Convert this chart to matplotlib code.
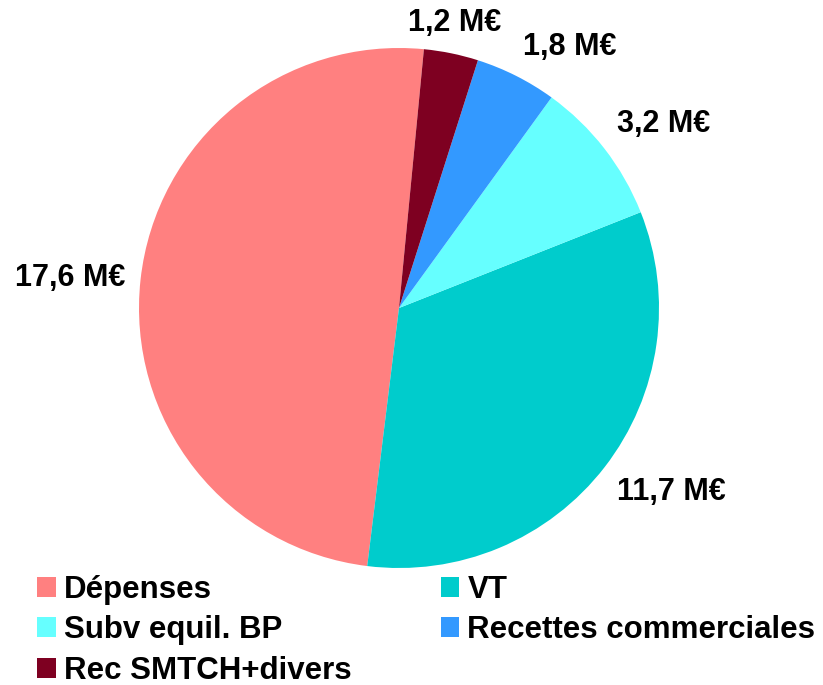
import numpy as np
import matplotlib
matplotlib.use("Agg")
import matplotlib.pyplot as plt

categories = ["Dépenses", "VT", "Subv equil. BP", "Recettes commerciales", "Rec SMTCH+divers"]
values = [17.6, 11.7, 3.2, 1.8, 1.2]
colors = ["#FF8080", "#00CCCC", "#66FFFF", "#3399FF", "#7E0021"]
value_labels = [f"{v:.1f}".replace(".", ",") + " M€" for v in values]

plt.rcParams['font.family'] = ['Liberation Sans', 'DejaVu Sans']

W, H = 823, 685
fig = plt.figure(figsize=(W / 100, H / 100), dpi=100)
cx, cy, r = 399, 308, 260
ax = fig.add_axes([(cx - r) / W, (H - cy - r) / H, 2 * r / W, 2 * r / H])

wedges, _ = ax.pie(values, colors=colors, startangle=84.5, counterclock=True,
                   radius=1, wedgeprops=dict(linewidth=0))
ax.set_xlim(-1, 1)
ax.set_ylim(-1, 1)
ax.set_aspect('equal')
ax.axis('off')

for w, lab in zip(wedges, value_labels):
    mid = np.deg2rad((w.theta1 + w.theta2) / 2)
    c, s = np.cos(mid), np.sin(mid)
    d = 1.06
    ha = 'center' if abs(c) < 0.3 else ('left' if c > 0 else 'right')
    va = 'center' if abs(s) < 0.3 else ('bottom' if s > 0 else 'top')
    ax.text(d * c, d * s, lab, ha=ha, va=va, fontsize=22, fontweight='bold',
            color='black', clip_on=False)

order = [0, 2, 4, 1, 3]
leg = fig.legend([wedges[i] for i in order], [categories[i] for i in order],
                 ncol=2, loc='upper left', bbox_to_anchor=(37 / W, 1 - 575 / H),
                 frameon=False, prop=dict(weight='bold', size=22.5),
                 handlelength=0.6, handleheight=0.6, handletextpad=0.26,
                 columnspacing=2.85, labelspacing=0.33, borderpad=0, borderaxespad=0)

fig.savefig("out.png", dpi=100)
